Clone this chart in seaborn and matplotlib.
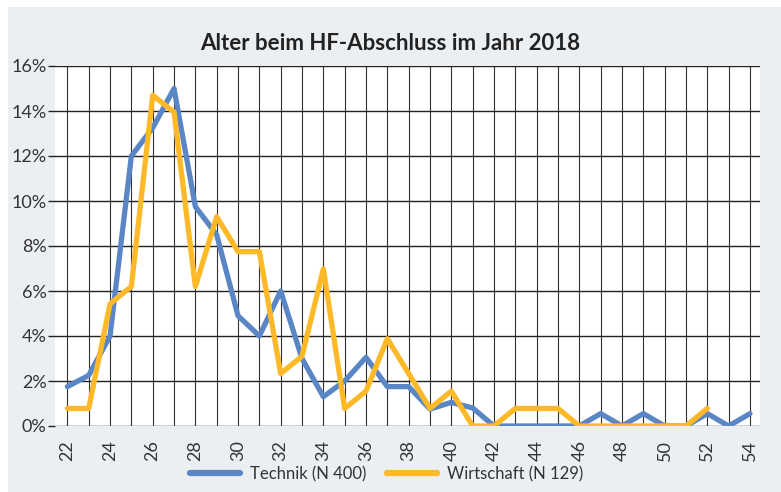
import matplotlib
matplotlib.use("Agg")
import matplotlib.pyplot as plt
import matplotlib.ticker as mticker
from matplotlib.patches import Rectangle
import pandas as pd
import seaborn as sns

# Data (percent of graduates per age)
ages = list(range(22, 55))
technik = [1.75, 2.25, 4.0, 12.0, 13.25, 15.0, 9.75, 8.5, 4.9, 4.0, 6.0, 3.0,
           1.3, 2.0, 3.05, 1.75, 1.75, 0.75, 1.05, 0.8, 0.0, 0.0, 0.0, 0.0,
           0.0, 0.55, 0.0, 0.55, 0.0, 0.0, 0.55, 0.0, 0.55]
wirtschaft = [0.78, 0.78, 5.43, 6.2, 14.7, 13.95, 6.2, 9.3, 7.75, 7.75, 2.33,
              3.1, 6.98, 0.78, 1.55, 3.88, 2.33, 0.78, 1.55, 0.0, 0.0, 0.78,
              0.78, 0.78, 0.0, 0.0, 0.0, 0.0, 0.0, 0.0, 0.78]
series_names = ["Technik (N 400)", "Wirtschaft (N 129)"]
colors = ["#5B86C6", "#FDB927"]

df = pd.concat([
    pd.DataFrame({"Alter": ages, "Anteil": technik, "Gruppe": series_names[0]}),
    pd.DataFrame({"Alter": ages[:len(wirtschaft)], "Anteil": wirtschaft, "Gruppe": series_names[1]}),
])

sns.set_theme(style="white")
plt.rcParams["font.family"] = ["Lato", "DejaVu Sans"]

fig = plt.figure(figsize=(7.81, 4.92), dpi=100)
fig.patch.set_facecolor("white")
# gray panel behind the chart
fig.patches.append(Rectangle((8 / 781, 0), 1 - 8 / 781, 1 - 7 / 492,
                             transform=fig.transFigure, facecolor="#ECEFF2",
                             edgecolor="none", zorder=-5))

ax = fig.add_axes([55 / 781, 1 - 426 / 492, (760 - 55) / 781, 360 / 492])
ax.set_facecolor("white")

sns.lineplot(data=df, x="Alter", y="Anteil", hue="Gruppe", palette=colors,
             linewidth=3.8, ax=ax, legend=False, zorder=3)

ax.set_xlim(21.42, 54.47)
ax.set_ylim(0, 16)
ax.xaxis.set_major_locator(mticker.MultipleLocator(2))
ax.xaxis.set_minor_locator(mticker.MultipleLocator(1))
ax.yaxis.set_major_locator(mticker.MultipleLocator(2))
ax.yaxis.set_major_formatter(mticker.FuncFormatter(lambda v, p: f"{v:.0f}%"))

ax.grid(True, which="both", axis="x", color="#333333", linewidth=0.8)
ax.grid(True, which="major", axis="y", color="#222222", linewidth=1.0)
ax.set_axisbelow(True)
for s in ax.spines.values():
    s.set_visible(False)

ax.tick_params(axis="y", which="major", left=True, length=5, width=1.0,
               color="#222222", labelsize=13, labelcolor="#333333", pad=1)
ax.tick_params(axis="x", which="both", bottom=False, labelsize=13,
               labelcolor="#333333", labelrotation=90, pad=4)
ax.set_xlabel("")
ax.set_ylabel("")

fig.text(0.5, 1 - 44 / 492, "Alter beim HF-Abschluss im Jahr 2018",
         ha="center", va="center", fontsize=16, fontweight="bold", color="#222222")

handles = [plt.Line2D([], [], color=c, linewidth=4.5, solid_capstyle="round") for c in colors]
fig.legend(handles, series_names, loc="center", bbox_to_anchor=(0.495, 1 - 474 / 492),
           ncol=2, frameon=False, fontsize=12, handlelength=3.0,
           columnspacing=1.2, handletextpad=0.6, labelcolor="#333333")

plt.savefig("out.png", dpi=100)
plt.close()
